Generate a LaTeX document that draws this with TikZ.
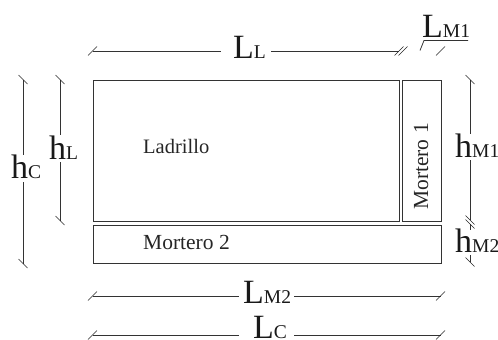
\documentclass[tikz,border=0pt]{standalone}
\usepackage{fontspec}
\setmainfont{Liberation Serif}
\newcommand{\bigsym}[2]{{\fontsize{34}{34}\selectfont #1}{\fontsize{19.5}{19.5}\selectfont #2}}
\tikzset{
  x=1pt,y=-1pt,
  box/.style={draw=black!80,line width=0.9pt,inner sep=0pt,anchor=north west},
  dim/.style={draw=black!80,line width=0.8pt},
  lab/.style={inner sep=0pt,anchor=base west,text=black!90},
  txt/.style={inner sep=0pt,anchor=base west,text=black!85,font=\fontsize{20.5}{20.5}\selectfont},
  tickh/.pic={\draw[draw=black!85,line width=0.6pt] (-4.5,4.5) -- (4.5,-4.5);},
  tickv/.pic={\draw[draw=black!85,line width=0.6pt] (-4.5,-4.5) -- (4.5,4.5);},
}
\begin{document}
\begin{tikzpicture}
\useasboundingbox (0,0) rectangle (498,340);
\clip (0,0) rectangle (498,340);
% boxes
\node[box,minimum width=306.5pt,minimum height=141pt] (lad) at (92.5,80) {};
\node[box,minimum width=39pt,minimum height=141pt] (m1) at (402,80) {};
\node[box,minimum width=348.5pt,minimum height=38.5pt] (m2) at (92.5,224.5) {};
\node[txt] (tlad) at (143,153) {Ladrillo};
\node[txt,font=\fontsize{21.5}{21.5}\selectfont] (tm2) at (143,249) {Mortero 2};
\node[txt,font=\fontsize{21.5}{21.5}\selectfont,rotate=90] (tm1) at (428,210) {Mortero 1};
% labels
\node[lab] (LL) at (233,58) {\bigsym{L}{L}};
\node[lab] (LM1) at (422,37) {\bigsym{L}{M1}};
\node[lab] (LM2) at (243,303) {\bigsym{L}{M2}};
\node[lab] (LC) at (253,338.5) {\bigsym{L}{C}};
\node[lab] (hC) at (11,178) {\bigsym{h}{C}};
\node[lab] (hL) at (49,159) {\bigsym{h}{L}};
\node[lab] (hM1) at (455,157) {\bigsym{h}{M1}};
\node[lab] (hM2) at (455,252) {\bigsym{h}{M2}};
% end points
\coordinate (a1) at (92.5,51);
\coordinate (a2) at (221,51);
\coordinate (a3) at (271,51);
\coordinate (a4) at (399,51);
\coordinate (a5) at (403,51);
\coordinate (a6) at (424,40.5);
\coordinate (a7) at (468,40.5);
\coordinate (a8) at (420,50.5);
\coordinate (a9) at (440.5,51);
\coordinate (b1) at (92.5,296);
\coordinate (b2) at (239,296);
\coordinate (b3) at (294,296);
\coordinate (b4) at (440.5,296);
\coordinate (c1) at (92.5,335);
\coordinate (c2) at (239,335);
\coordinate (c3) at (294,335);
\coordinate (c4) at (440.5,335);
\coordinate (d1) at (23,79.5);
\coordinate (d2) at (23,155);
\coordinate (d3) at (23,182);
\coordinate (d4) at (23,263.5);
\coordinate (e1) at (60,79.5);
\coordinate (e2) at (60,135);
\coordinate (e3) at (60,162);
\coordinate (e4) at (60,220.5);
\coordinate (f1) at (470,79.5);
\coordinate (f2) at (470,134);
\coordinate (f3) at (470,160);
\coordinate (f4) at (470,220);
\coordinate (g1) at (470,224);
\coordinate (g2) at (470,230);
\coordinate (g3) at (470,255);
\coordinate (g4) at (470,262);
% connectors
\draw[dim] (a1) -- (a2);
\draw[dim] (a3) -- (a4);
\draw[dim] (a8) -- (a6) -- (a7);
\draw[dim] (b1) -- (b2);
\draw[dim] (b3) -- (b4);
\draw[dim] (c1) -- (c2);
\draw[dim] (c3) -- (c4);
\draw[dim] (d1) -- (d2);
\draw[dim] (d3) -- (d4);
\draw[dim] (e1) -- (e2);
\draw[dim] (e3) -- (e4);
\draw[dim] (f1) -- (f2);
\draw[dim] (f3) -- (f4);
\draw[dim] (g1) -- (g2);
\draw[dim] (g3) -- (g4);
% ticks
\foreach \p in {a1,a4,a5,a9,b1,b4,c1,c4} \pic at (\p) {tickh};
\foreach \p in {d1,d4,e1,e4,f1,f4,g1,g4} \pic at (\p) {tickv};
\end{tikzpicture}
\end{document}
